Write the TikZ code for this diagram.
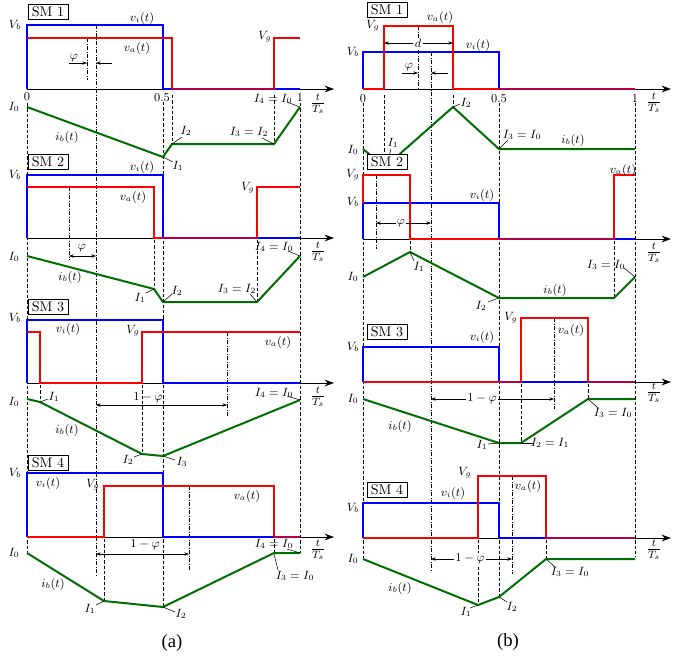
\documentclass[tikz,border=0pt]{standalone}
\usepackage{fontspec}
\newfontfamily\capfont{Liberation Serif}
\usetikzlibrary{arrows.meta}
\definecolor{wblue}{RGB}{0,0,255}
\definecolor{wred}{RGB}{255,0,0}
\definecolor{wgreen}{RGB}{0,110,0}
\begin{document}
\begin{tikzpicture}[x=0.75pt,y=-0.75pt,font=\fontsize{9}{10}\selectfont,
 bl/.style={wblue,line width=1.5pt},
 blz/.style={wblue,line width=1.5pt,draw opacity=0.3},
 rd/.style={wred,line width=1.5pt},
 gr/.style={wgreen,line width=1.5pt},
 ax/.style={black,line width=0.75pt,-{Stealth[length=7pt,width=5pt]}},
 dsh/.style={black,line width=0.45pt,dash pattern=on 2.5pt off 1.5pt},
 ddot/.style={black,line width=0.45pt,dash pattern=on 3pt off 1.2pt on 0.6pt off 1.2pt},
 ldr/.style={black,line width=0.4pt},
 dimarr/.style={black,line width=0.45pt,{Stealth[length=3.5pt,width=2.6pt]}-{Stealth[length=3.5pt,width=2.6pt]}},
 harr/.style={black,line width=0.45pt,-{Stealth[length=3.5pt,width=2.6pt]}},
 smbox/.style={draw,fill=white,line width=0.5pt,inner xsep=2.8pt,inner ysep=2pt,font=\fontsize{10.5}{11}\selectfont},
 lb/.style={inner sep=0.5pt},
 onl/.style={fill=white,inner sep=1pt},
 tsl/.style={inner sep=0.5pt,font=\fontsize{12}{13}\selectfont},
 capt/.style={inner sep=0pt,font=\capfont\fontsize{14}{16}\selectfont}]
\useasboundingbox (0,0) rectangle (687,658);

% ================= column lines (a) =================
\draw[dsh] (27,103)--(27,553);
\draw[dsh] (163,102)--(163,607);
\draw[dsh] (300,103)--(300,553);
\draw[ddot] (96,25)--(96,575);
% ================= column lines (b) =================
\draw[dsh] (363,103)--(363,559);
\draw[dsh] (499,103)--(499,597);
\draw[dsh] (635,103)--(635,557);
\draw[ddot] (431,52)--(431,572);

% ================= (a) SM1 =================
\draw[ax] (27,89)--(334,89);
\draw[dsh] (172,95)--(172,144);
\draw[dsh] (274,95)--(274,144);
\draw[ddot] (87,38)--(87,80);
\draw[bl] (27,89)--(27,25)--(163,25)--(163,89)--(300,89);
\draw[rd] (27,38)--(172,38)--(172,89)--(274,89)--(274,38)--(300,38);
\draw[blz] (163,89)--(300,89);
\draw[gr] (27,107)--(163,157)--(172,144)--(274,144)--(300,107);
\draw[harr] (69,63)--(87,63);
\draw[harr] (112,63)--(96,63);
\draw[ldr] (172,144)--(182,137);
\draw[ldr] (163,157)--(173,162);
\draw[ldr] (274,144)--(262,138);
\draw[ldr] (300,107)--(287,102);
\node[smbox] (sm1a) at (48,12) {SM 1};
\node[lb] (vb1a) at (15,25) {$V_b$};
\node[lb] (vi1a) at (142,18) {$v_i(t)$};
\node[lb] (va1a) at (137,48) {$v_a(t)$};
\node[lb] (vg1a) at (265,37) {$V_g$};
\node[lb] (ph1a) at (74,58) {$\varphi$};
\node[lb] (z1a) at (27,97) {$0$};
\node[lb] (h1a) at (162,98) {$0.5$};
\node[lb] (o1a) at (300,98) {$1$};
\node[tsl] (ts1a) at (318,104) {$\frac{t}{T_s}$};
\node[lb] (i01a) at (14,107) {$I_0$};
\node[lb] (ib1a) at (67,137) {$i_b(t)$};
\node[lb] (I21a) at (186,131) {$I_2$};
\node[lb] (I11a) at (178,166) {$I_1$};
\node[lb] (I31a) at (249,132) {$I_3=I_2$};
\node[lb] (I41a) at (273,99) {$I_4=I_0$};

% ================= (a) SM2 =================
\draw[ax] (27,238)--(334,238);
\draw[dsh] (154,240)--(154,289);
\draw[dsh] (257,240)--(257,302);
\draw[ddot] (69,187)--(69,260);
\draw[bl] (27,238)--(27,175)--(163,175)--(163,238)--(300,238);
\draw[rd] (27,187)--(154,187)--(154,238)--(257,238)--(257,187)--(300,187);
\draw[blz] (163,238)--(300,238);
\draw[gr] (27,256)--(154,289)--(163,302)--(257,302)--(300,256);
\draw[dimarr] (69,256)--(96,256);
\draw[ldr] (154,289)--(146,293);
\draw[ldr] (163,302)--(172,294);
\draw[ldr] (257,302)--(250,294);
\draw[ldr] (300,256)--(288,251);
\node[smbox] (sm2a) at (48,162) {SM 2};
\node[lb] (vb2a) at (15,175) {$V_b$};
\node[lb] (vi2a) at (142,167) {$v_i(t)$};
\node[lb] (va2a) at (133,197) {$v_a(t)$};
\node[lb] (vg2a) at (248,188) {$V_g$};
\node[lb] (ph2a) at (82,248) {$\varphi$};
\node[tsl] (ts2a) at (318,252) {$\frac{t}{T_s}$};
\node[lb] (i02a) at (14,257) {$I_0$};
\node[lb] (ib2a) at (70,277) {$i_b(t)$};
\node[lb] (I12a) at (140,298) {$I_1$};
\node[lb] (I22a) at (177,291) {$I_2$};
\node[lb] (I32a) at (237,289) {$I_3=I_2$};
\node[lb] (I42a) at (274,247) {$I_4=I_0$};

% ================= (a) SM3 =================
\draw[ax] (27,383)--(334,383);
\draw[dsh] (40,385)--(40,402);
\draw[dsh] (142,385)--(142,454);
\draw[ddot] (227,332)--(227,417);
\draw[bl] (27,383)--(27,320)--(163,320)--(163,383)--(300,383);
\draw[rd] (27,332)--(40,332)--(40,383)--(142,383)--(142,332)--(300,332);
\draw[gr] (27,399)--(40,402)--(142,454)--(163,456)--(300,400);
\draw[dimarr] (96,405)--(227,405);
\draw[ldr] (40,402)--(48,399);
\draw[ldr] (142,454)--(134,457);
\draw[ldr] (163,456)--(175,460);
\draw[ldr] (300,400)--(287,396);
\node[smbox] (sm3a) at (48,307) {SM 3};
\node[lb] (vb3a) at (15,318) {$V_b$};
\node[lb] (vi3a) at (68,329) {$v_i(t)$};
\node[lb] (va3a) at (278,342) {$v_a(t)$};
\node[lb] (vg3a) at (133,331) {$V_g$};
\node[lb] (ph3a) at (148,398) {$1-\varphi$};
\node[tsl] (ts3a) at (318,397) {$\frac{t}{T_s}$};
\node[lb] (i03a) at (14,402) {$I_0$};
\node[lb] (I13a) at (54,397) {$I_1$};
\node[lb] (ib3a) at (67,430) {$i_b(t)$};
\node[lb] (I23a) at (128,460) {$I_2$};
\node[lb] (I33a) at (182,462) {$I_3$};
\node[lb] (I43a) at (274,393) {$I_4=I_0$};

% ================= (a) SM4 =================
\draw[ax] (27,537)--(334,537);
\draw[dsh] (104,539)--(104,601);
\draw[dsh] (274,539)--(274,553);
\draw[ddot] (189,486)--(189,570);
\draw[bl] (27,537)--(27,473)--(163,473)--(163,537)--(300,537);
\draw[rd] (27,537)--(104,537)--(104,486)--(274,486)--(274,537)--(300,537);
\draw[blz] (163,537)--(300,537);
\draw[gr] (27,553)--(104,601)--(163,607)--(274,553)--(300,553);
\draw[dimarr] (96,554)--(189,554);
\draw[ldr] (104,601)--(96,605);
\draw[ldr] (163,607)--(175,612);
\draw[ldr] (300,553)--(287,549);
\draw[ldr] (274,554)--(278,570);
\node[smbox] (sm4a) at (48,463) {SM 4};
\node[lb] (vb4a) at (15,473) {$V_b$};
\node[lb] (vi4a) at (48,483) {$v_i(t)$};
\node[lb] (va4a) at (247,496) {$v_a(t)$};
\node[lb] (vg4a) at (93,485) {$V_g$};
\node[lb] (ph4a) at (145,545) {$1-\varphi$};
\node[tsl] (ts4a) at (318,550) {$\frac{t}{T_s}$};
\node[lb] (i04a) at (14,553) {$I_0$};
\node[lb] (ib4a) at (53,584) {$i_b(t)$};
\node[lb] (I14a) at (90,609) {$I_1$};
\node[lb] (I24a) at (181,614) {$I_2$};
\node[lb] (I44a) at (274,544) {$I_4=I_0$};
\node[lb] (I34a) at (295,576) {$I_3=I_0$};
\node[capt] (capa) at (172,643) {(a)};

% ================= (b) SM1 =================
\draw[ax] (363,89)--(671,89);
\draw[dsh] (384,95)--(384,165);
\draw[dsh] (453,95)--(453,107);
\draw[ddot] (418,26)--(418,88);
\draw[bl] (363,89)--(363,52)--(499,52)--(499,89)--(635,89);
\draw[rd] (363,89)--(384,89)--(384,26)--(453,26)--(453,89)--(635,89);
\draw[blz] (499,89)--(635,89);
\draw[gr] (363,149)--(385,167)--(453,107)--(499,149)--(635,149);
\draw[dimarr] (384,43)--(453,43);
\draw[harr] (402,73)--(418,73);
\draw[harr] (448,73)--(431,73);
\draw[ldr] (453,107)--(460,104);
\draw[ldr] (499,149)--(508,140);
\draw[ldr] (391,149)--(388,160);
\node[onl] (d1b) at (418,43) {$d$};
\node[lb] (vg1b) at (373,26) {$V_g$};
\node[lb] (vb1b) at (353,52) {$V_b$};
\node[lb] (va1b) at (440,17) {$v_a(t)$};
\node[lb] (vi1b) at (478,45) {$v_i(t)$};
\node[lb] (ph1b) at (409,67) {$\varphi$};
\node[lb] (z1b) at (363,99) {$0$};
\node[lb] (h1b) at (499,99) {$0.5$};
\node[lb] (o1b) at (635,99) {$1$};
\node[tsl] (ts1b) at (654,103) {$\frac{t}{T_s}$};
\node[lb] (i01b) at (353,150) {$I_0$};
\node[lb] (I11b) at (393,143) {$I_1$};
\node[lb] (I21b) at (466,103) {$I_2$};
\node[lb] (I31b) at (522,135) {$I_3=I_0$};
\node[lb] (ib1b) at (573,140) {$i_b(t)$};
\node[smbox] (sm1b) at (387,10) {SM 1};

% ================= (b) SM2 =================
\draw[ax] (363,239)--(671,239);
\draw[dsh] (410,241)--(410,252);
\draw[dsh] (614,241)--(614,298);
\draw[ddot] (376,175)--(376,249);
\draw[bl] (363,239)--(363,203)--(499,203)--(499,239)--(635,239);
\draw[rd] (363,203)--(363,175)--(410,175)--(410,239)--(614,239)--(614,175)--(635,175);
\draw[blz] (499,239)--(635,239);
\draw[gr] (363,277)--(410,252)--(499,298)--(614,298)--(635,277);
\draw[dimarr] (376,223)--(431,223);
\draw[ldr] (410,252)--(414,261);
\draw[ldr] (499,298)--(488,302);
\draw[ldr] (635,277)--(624,268);
\node[onl] (ph2b) at (401,223) {$\varphi$};
\node[smbox] (sm2b) at (387,162) {SM 2};
\node[lb] (vg2b) at (353,175) {$V_g$};
\node[lb] (vb2b) at (353,202) {$V_b$};
\node[lb] (vi2b) at (482,195) {$v_i(t)$};
\node[lb] (va2b) at (623,170) {$v_a(t)$};
\node[tsl] (ts2b) at (654,253) {$\frac{t}{T_s}$};
\node[lb] (i02b) at (353,277) {$I_0$};
\node[lb] (I12b) at (419,267) {$I_1$};
\node[lb] (I22b) at (481,306) {$I_2$};
\node[lb] (ib2b) at (555,290) {$i_b(t)$};
\node[lb] (I32b) at (606,265) {$I_3=I_0$};

% ================= (b) SM3 =================
\draw[ax] (363,382)--(671,382);
\draw[dsh] (521,384)--(521,443);
\draw[dsh] (588,384)--(588,399);
\draw[ddot] (554,318)--(554,409);
\draw[bl] (363,382)--(363,347)--(499,347)--(499,382)--(635,382);
\draw[rd] (363,382)--(521,382)--(521,318)--(588,318)--(588,382)--(635,382);
\draw[blz] (499,382)--(635,382);
\draw[gr] (363,399)--(499,443)--(521,443)--(588,399)--(635,399);
\draw[dimarr] (431,399)--(554,399);
\draw[ldr] (499,443)--(488,444);
\draw[ldr] (521,443)--(533,443);
\draw[ldr] (588,399)--(598,408);
\node[onl] (ph3b) at (482,399) {$1-\varphi$};
\node[smbox] (sm3b) at (387,332) {SM 3};
\node[lb] (vb3b) at (353,347) {$V_b$};
\node[lb] (vg3b) at (511,318) {$V_g$};
\node[lb] (vi3b) at (482,337) {$v_i(t)$};
\node[lb] (va3b) at (571,330) {$v_a(t)$};
\node[tsl] (ts3b) at (654,393) {$\frac{t}{T_s}$};
\node[lb] (i03b) at (353,399) {$I_0$};
\node[lb] (ib3b) at (400,426) {$i_b(t)$};
\node[lb] (I13b) at (482,445) {$I_1$};
\node[lb] (I23b) at (550,443) {$I_2=I_1$};
\node[lb] (I33b) at (613,413) {$I_3=I_0$};

% ================= (b) SM4 =================
\draw[ax] (363,538)--(671,538);
\draw[dsh] (478,540)--(478,605);
\draw[dsh] (546,540)--(546,559);
\draw[ddot] (512,476)--(512,574);
\draw[bl] (363,538)--(363,503)--(499,503)--(499,538)--(635,538);
\draw[rd] (363,538)--(478,538)--(478,476)--(546,476)--(546,538)--(635,538);
\draw[blz] (499,538)--(635,538);
\draw[gr] (363,559)--(478,605)--(499,597)--(546,559)--(635,559);
\draw[dimarr] (431,559)--(512,559);
\draw[ldr] (478,605)--(470,608);
\draw[ldr] (499,597)--(507,602);
\draw[ldr] (546,559)--(555,567);
\node[onl] (ph4b) at (470,559) {$1-\varphi$};
\node[smbox] (sm4b) at (387,490) {SM 4};
\node[lb] (vb4b) at (353,508) {$V_b$};
\node[lb] (vg4b) at (465,473) {$V_g$};
\node[lb] (vi4b) at (453,493) {$v_i(t)$};
\node[lb] (va4b) at (528,486) {$v_a(t)$};
\node[tsl] (ts4b) at (654,550) {$\frac{t}{T_s}$};
\node[lb] (i04b) at (353,559) {$I_0$};
\node[lb] (ib4b) at (400,588) {$i_b(t)$};
\node[lb] (I14b) at (466,612) {$I_1$};
\node[lb] (I24b) at (512,607) {$I_2$};
\node[lb] (I34b) at (570,572) {$I_3=I_0$};
\node[capt] (capb) at (508,642) {(b)};
\end{tikzpicture}
\end{document}
